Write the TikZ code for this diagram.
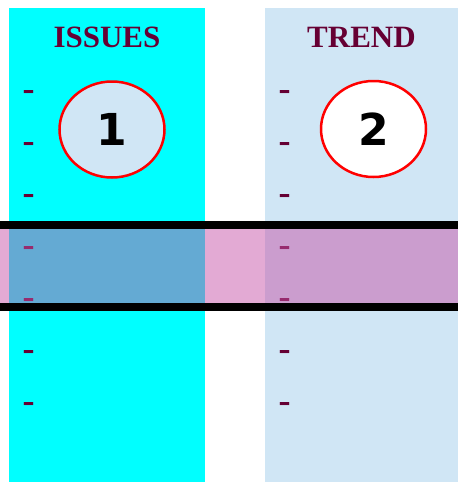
\documentclass[tikz,border=0pt]{standalone}
\usepackage{fontspec}
\setmainfont{Liberation Serif}
\newfontfamily\numfont{DejaVu Sans}
\usetikzlibrary{shapes.geometric, positioning}

\definecolor{issuecyan}{RGB}{0,255,255}
\definecolor{trendblue}{RGB}{208,230,245}
\definecolor{headmaroon}{RGB}{102,0,51}
\definecolor{bandpink}{RGB}{200,86,169}

\begin{document}
\begin{tikzpicture}[x = 1pt, y = -1pt, % y runs downwards
                node distance = 52pt, % spacing of the dash rows
                semithick % line style
            ]

            \tikzstyle{headline}=[text = headmaroon, inner sep = 0pt,
            font = \fontsize{31}{31}\selectfont\bfseries]
            \tikzstyle{listdash}=[text = headmaroon, inner sep = 0pt,
            font = \fontsize{36}{36}\selectfont\bfseries]
            \tikzstyle{badge}=[draw = red, line width = 2.5pt, ellipse,
            minimum width = 105pt, minimum height = 96pt, inner sep = 0pt,
            font = \numfont\bfseries\fontsize{44}{44}\selectfont]

            \useasboundingbox (0,0) rectangle (458,482);

            % the two columns
            \fill[issuecyan] (9,8) rectangle (205,482);
            \fill[trendblue] (265,8) rectangle (458,482);

            \node[headline] (issues) at (107,37.5) {ISSUES};
            \node[headline] (trend) at (361.5,37.5) {TREND};

            \node[listdash] (l1) at (28.5,95) {-}; \node[listdash] (l2) [below
                of=l1] {-}; \node[listdash] (l3) [below of=l2] {-};
            \node[listdash] (l4) [below of=l3] {-}; \node[listdash] (l5) [below
                of=l4] {-}; \node[listdash] (l6) [below of=l5] {-};
            \node[listdash] (l7) [below of=l6] {-};

            \node[listdash] (r1) at (284.5,95) {-}; \node[listdash] (r2) [below
                of=r1] {-}; \node[listdash] (r3) [below of=r2] {-};
            \node[listdash] (r4) [below of=r3] {-}; \node[listdash] (r5) [below
                of=r4] {-}; \node[listdash] (r6) [below of=r5] {-};
            \node[listdash] (r7) [below of=r6] {-};

            \node[badge, fill = trendblue] (one) at (112,129.5) {1};
            \node[badge, fill = white] (two) at (373.5,129) {2};

            % highlighted band with its two bars
            \fill[bandpink, opacity = .5] (0,229) rectangle (458,303);
            \draw[line width = 8pt] (0,225.3) -- (458,225.3);
            \draw[line width = 8pt] (0,306.7) -- (458,306.7);
        \end{tikzpicture}
\end{document}
